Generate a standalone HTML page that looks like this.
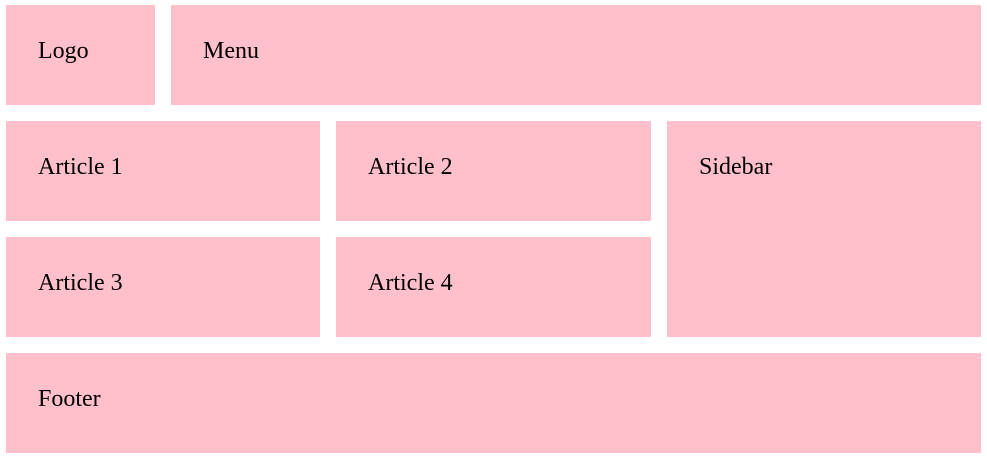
<!DOCTYPE html>
<html><head><style>
html,body{margin:0;padding:0;background:#fff;width:987px;height:460px;overflow:hidden}
.b{position:absolute;background:#ffc0cb;font-family:"Liberation Serif",serif;font-size:24px;color:#000;box-sizing:border-box;padding:33px 0 0 32px;line-height:27px}
</style></head><body>
<div class="b" style="left:6px;top:5px;width:149px;height:100px">Logo</div>
<div class="b" style="left:171px;top:5px;width:810px;height:100px">Menu</div>
<div class="b" style="left:6px;top:121px;width:314px;height:100px">Article 1</div>
<div class="b" style="left:336px;top:121px;width:315px;height:100px">Article 2</div>
<div class="b" style="left:667px;top:121px;width:314px;height:216px">Sidebar</div>
<div class="b" style="left:6px;top:237px;width:314px;height:100px">Article 3</div>
<div class="b" style="left:336px;top:237px;width:315px;height:100px">Article 4</div>
<div class="b" style="left:6px;top:353px;width:975px;height:100px">Footer</div>
</body></html>
